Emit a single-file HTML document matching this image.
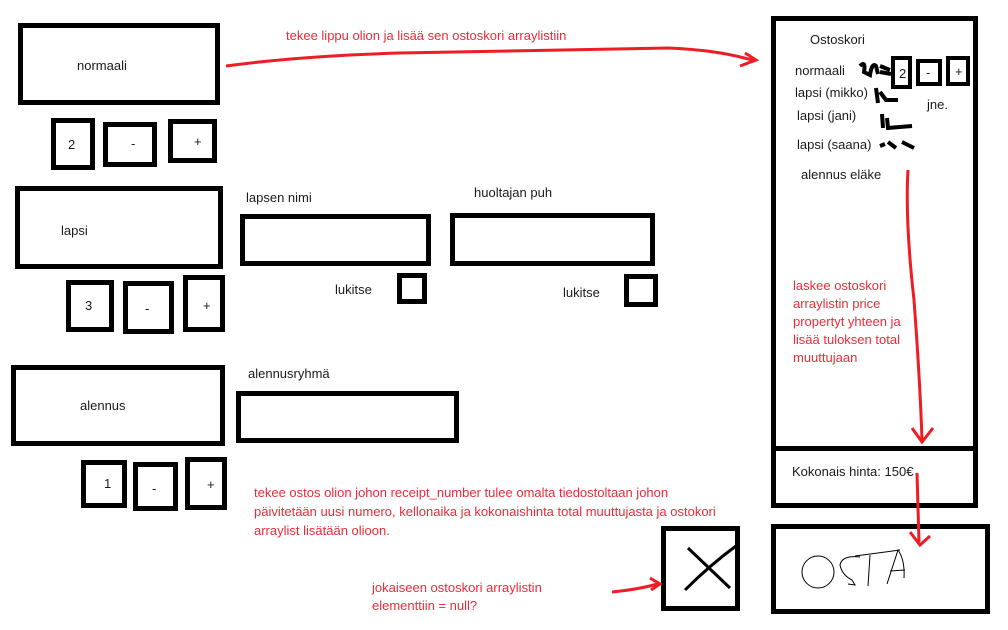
<!DOCTYPE html>
<html><head><meta charset="utf-8"><style>
html,body{margin:0;padding:0;background:#fff;}
svg{display:block;}
text{font-family:"Liberation Sans",sans-serif;font-size:13px;fill:#1a1a1a;}
.r{fill:#ee2a3a;}
</style></head><body>
<svg width="1008" height="630" viewBox="0 0 1008 630">
<g fill="none" stroke="#000" stroke-width="5">
<rect x="20.5" y="25.5" width="197" height="77"/>
<rect x="53.5" y="120.5" width="39" height="47"/>
<rect x="105.5" y="124.5" width="49" height="40"/>
<rect x="170.5" y="121.5" width="44" height="39"/>
<rect x="17.5" y="188.5" width="203" height="78"/>
<rect x="68.5" y="282.5" width="43" height="47"/>
<rect x="125.5" y="283.5" width="46" height="48"/>
<rect x="185.5" y="277.5" width="37" height="52"/>
<rect x="242.5" y="216.5" width="186" height="47"/>
<rect x="452.5" y="215.5" width="200" height="48"/>
<rect x="399.5" y="275.5" width="25" height="26"/>
<rect x="626.5" y="276.5" width="29" height="28"/>
<rect x="13.5" y="367.5" width="209" height="76"/>
<rect x="238.5" y="393.5" width="218" height="47"/>
<rect x="83.5" y="462.5" width="41" height="43"/>
<rect x="135.5" y="464.5" width="40" height="44"/>
<rect x="187.5" y="459.5" width="37" height="48"/>
<rect x="773.5" y="18.5" width="202" height="430"/>
<rect x="773.5" y="448.5" width="202" height="57"/>
<rect x="663.5" y="528.5" width="74" height="80"/>
<rect x="773.5" y="526.5" width="214" height="85"/>
<rect x="893" y="58" width="17" height="29" stroke-width="4"/>
<rect x="918" y="61" width="22" height="23" stroke-width="4"/>
<rect x="948" y="58" width="20" height="26" stroke-width="4"/>
</g>
<path d="M688 548 L730 588 M736 546 Q710 565 685 590" stroke="#000" stroke-width="3" fill="none"/>
<g stroke="#000" stroke-width="1" fill="none">
<ellipse cx="818" cy="572" rx="16" ry="16"/>
<path d="M860 557 Q842 555 840 565 Q842 575 852 580 L855 585 L848 584"/>
<path d="M855 556 L900 550 M870 555 L868 586"/>
<path d="M887 584 L898 550 Q905 560 904 578 M890 571 L905 570"/>
</g>
<g stroke="#000" stroke-width="4" fill="none">
<path d="M860 66 Q866 60 864 72 L870 75 Q872 62 876 66 L878 74 M880 66 L890 70 M880 72 L891 74"/>
<path d="M876 88 L878 103 M880 92 L886 100 L898 100"/>
<path d="M882 114 L883 128 M887 118 L888 128 L912 126"/>
<path d="M880 146 L885 144 M888 142 L896 148 M902 142 L914 148"/>
</g>
<g stroke="#ee1c25" stroke-width="3" fill="none">
<path d="M226 66 Q300 56 400 53 L668 48 Q720 50 755 61"/>
<path d="M745 53 L756 60 L740 66"/>
<path d="M908 170 Q905 220 914 300 Q920 380 922 440"/>
<path d="M912 428 L922 442 L933 428"/>
<path d="M917 473 L919 542"/>
<path d="M910 532 L920 545 L930 536"/>
<path d="M612 592 Q635 590 658 584"/>
<path d="M650 578 L660 584 L651 590"/>
</g>
<text x="77" y="70">normaali</text>
<text x="68" y="149">2</text>
<text x="131" y="148">-</text>
<text x="194" y="146">+</text>
<text x="61" y="235">lapsi</text>
<text x="85" y="310">3</text>
<text x="145" y="313">-</text>
<text x="203" y="310">+</text>
<text x="246" y="202">lapsen nimi</text>
<text x="474" y="197">huoltajan puh</text>
<text x="335" y="294">lukitse</text>
<text x="563" y="297">lukitse</text>
<text x="80" y="410">alennus</text>
<text x="248" y="378">alennusryhmä</text>
<text x="104" y="488">1</text>
<text x="152" y="493">-</text>
<text x="207" y="489">+</text>
<text x="810" y="44">Ostoskori</text>
<text x="795" y="75">normaali</text>
<text x="899" y="78">2</text>
<text x="926" y="77">-</text>
<text x="955" y="76">+</text>
<text x="795" y="97">lapsi (mikko)</text>
<text x="797" y="120">lapsi (jani)</text>
<text x="797" y="149">lapsi (saana)</text>
<text x="927" y="109">jne.</text>
<text x="801" y="179">alennus eläke</text>
<text x="792" y="476">Kokonais hinta: 150€</text>
<text class="r" x="286" y="40">tekee lippu olion ja lisää sen ostoskori arraylistiin</text>
<text class="r" x="793" y="290">laskee ostoskori</text>
<text class="r" x="793" y="308">arraylistin price</text>
<text class="r" x="793" y="326">propertyt yhteen ja</text>
<text class="r" x="793" y="344">lisää tuloksen total</text>
<text class="r" x="793" y="362">muuttujaan</text>
<text class="r" x="254" y="497">tekee ostos olion johon receipt_number tulee omalta tiedostoltaan johon</text>
<text class="r" x="254" y="516">päivitetään uusi numero, kellonaika ja kokonaishinta total muuttujasta ja ostokori</text>
<text class="r" x="254" y="535">arraylist lisätään olioon.</text>
<text class="r" x="372" y="592">jokaiseen ostoskori arraylistin</text>
<text class="r" x="372" y="610">elementtiin = null?</text>
</svg>
</body></html>
